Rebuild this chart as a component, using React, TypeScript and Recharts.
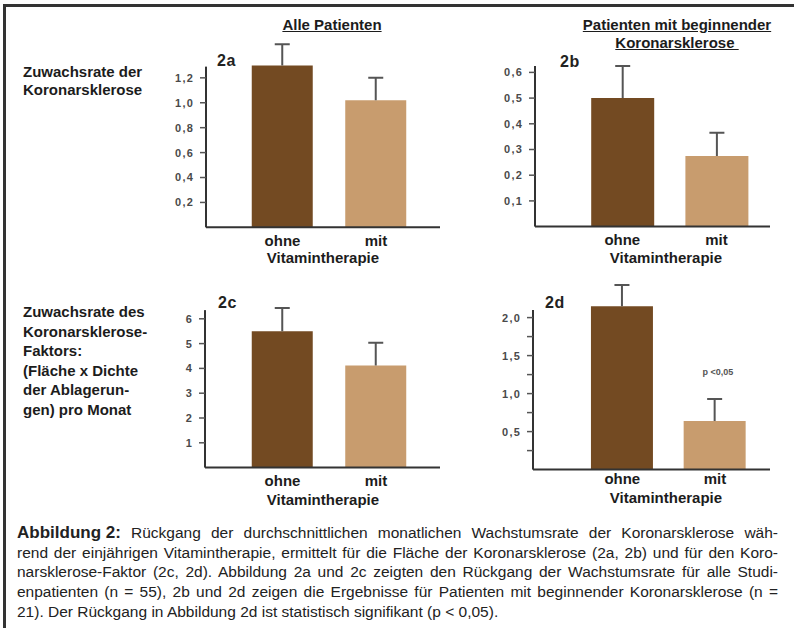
import React from "react";
import { BarChart, Bar, XAxis, YAxis, ReferenceLine, Cell } from "recharts";

const groups = ["ohne", "mit"];
const barColors = ["#734a22", "#c89c6e"];

// 2a: Zuwachsrate der Koronarsklerose, alle Patienten
const rate2a = [1.3, 1.02];
const err2a = [0.17, 0.18];
const ticks2a = [0.2, 0.4, 0.6, 0.8, 1.0, 1.2];

// 2b: Zuwachsrate, beginnende Koronarsklerose
const rate2b = [0.5, 0.275];
const err2b = [0.125, 0.09];
const ticks2b = [0.1, 0.2, 0.3, 0.4, 0.5, 0.6];

// 2c: Koronarsklerose-Faktor, alle Patienten
const rate2c = [5.5, 4.12];
const err2c = [0.94, 0.91];
const ticks2c = [1, 2, 3, 4, 5, 6];

// 2d: Koronarsklerose-Faktor, beginnende Koronarsklerose
const rate2d = [2.15, 0.64];
const err2d = [0.28, 0.29];
const ticks2d = [0.25, 0.5, 0.75, 1.0, 1.25, 1.5, 1.75, 2.0];

const captionLines = [
  "rend der einjährigen Vitamintherapie, ermittelt für die Fläche der Koronarsklerose (2a, 2b) und für den Koro-",
  "narsklerose-Faktor (2c, 2d). Abbildung 2a und 2c zeigten den Rückgang der Wachstumsrate für alle Studi-",
  "enpatienten (n = 55), 2b und 2d zeigen die Ergebnisse für Patienten mit beginnender Koronarsklerose (n =",
];

const FONT = '"Liberation Sans", Arial, sans-serif';
const INK = "#1c1c1c";

// one-sided whisker: drawn as a stacked segment on top of the bar
function Whisker(props: any) {
  const { x, y, width, height } = props;
  if (x == null || !height) return null;
  const cx = x + width / 2;
  return (
    <g stroke="#555" strokeWidth={2}>
      <line x1={cx} y1={y} x2={cx} y2={y + height} />
      <line x1={cx - 7.5} y1={y} x2={cx + 7.5} y2={y} />
    </g>
  );
}

type PanelProps = {
  values: number[];
  errors: number[];
  ticks: number[];
  labelStep: number;
  decimals: number;
  plotLeft: number;
  plotRight: number;
  centers: [number, number];
  barSize: number;
  zeroY: number;
  scale: number;
  yMax: number;
  axisTop: number;
  xTickMargin?: number;
};

function Panel(p: PanelProps) {
  const yAxisW = 40;
  const xAxisH = 40;
  const mRight = 6;
  const plotH = p.yMax * p.scale;
  const left = p.plotLeft - yAxisW;
  const top = p.zeroY - plotH;
  const width = p.plotRight + mRight - left;
  const height = plotH + xAxisH;
  const gap = p.centers[1] - p.centers[0];
  const xMin = 1 - (p.centers[0] - p.plotLeft) / gap;
  const xMax = 2 + (p.plotRight - p.centers[1]) / gap;
  const data = groups.map((g, i) => ({
    x: i + 1,
    name: g,
    value: p.values[i],
    err: p.errors[i],
  }));

  const fmtY = (v: number) => {
    const r = v / p.labelStep;
    if (Math.abs(r - Math.round(r)) > 1e-6) return "";
    return v.toFixed(p.decimals).replace(".", ",");
  };

  return (
    <div style={{ position: "absolute", left, top }}>
      <BarChart
        width={width}
        height={height}
        data={data}
        margin={{ top: 0, right: mRight, bottom: 0, left: 0 }}
      >
        <XAxis
          type="number"
          dataKey="x"
          domain={[xMin, xMax]}
          allowDataOverflow
          ticks={[1, 2]}
          interval={0}
          tickFormatter={(v: number) => groups[v - 1]}
          axisLine={{ stroke: "#333", strokeWidth: 2 }}
          tickLine={false}
          tickMargin={p.xTickMargin ?? 2}
          height={xAxisH}
          tick={{ fill: INK, fontSize: 15, fontWeight: 700 }}
        />
        <YAxis
          type="number"
          domain={[0, p.yMax]}
          ticks={p.ticks}
          interval={0}
          width={yAxisW}
          axisLine={false}
          tickLine={{ stroke: "#555", strokeWidth: 1.5 }}
          tickSize={6}
          tickMargin={6}
          tickFormatter={fmtY}
          tick={{ fill: "#4a4a4a", fontSize: 11, fontWeight: 700, letterSpacing: 1.2 }}
        />
        <ReferenceLine
          segment={[
            { x: xMin, y: 0 },
            { x: xMin, y: p.axisTop },
          ]}
          stroke="#333"
          strokeWidth={2}
          ifOverflow="visible"
        />
        <Bar dataKey="value" stackId="s" barSize={p.barSize} isAnimationActive={false}>
          {data.map((_, i) => (
            <Cell key={i} fill={barColors[i]} />
          ))}
        </Bar>
        <Bar
          dataKey="err"
          stackId="s"
          barSize={p.barSize}
          shape={<Whisker />}
          isAnimationActive={false}
        />
      </BarChart>
    </div>
  );
}

const abs = (left: number, top: number, extra: React.CSSProperties = {}): React.CSSProperties => ({
  position: "absolute",
  left,
  top,
  ...extra,
});

const bold15: React.CSSProperties = {
  fontSize: 15,
  fontWeight: 700,
  color: INK,
  lineHeight: "18px",
  whiteSpace: "pre",
};

const panelTag: React.CSSProperties = {
  fontSize: 16,
  fontWeight: 900,
  color: "#222",
  lineHeight: "16px",
  letterSpacing: 0.5,
};

const justified: React.CSSProperties = {
  textAlign: "justify",
  textAlignLast: "justify",
  whiteSpace: "nowrap",
};

export default function App() {
  return (
    <div
      style={{
        position: "absolute",
        left: 0,
        top: 0,
        width: 794,
        height: 628,
        background: "#fff",
        fontFamily: FONT,
        overflow: "hidden",
      }}
    >
      {/* frame */}
      <div style={abs(3, 4, { width: 791, height: 2.5, background: "#333" })} />
      <div style={abs(3, 4, { width: 3, height: 624, background: "#333" })} />

      {/* column headings */}
      <div style={abs(232, 16, { ...bold15, width: 200, textAlign: "center", textDecoration: "underline" })}>
        Alle Patienten
      </div>
      <div style={abs(577, 16, { ...bold15, width: 200, textAlign: "center", textDecoration: "underline" })}>
        {"Patienten mit beginnender\nKoronarsklerose\u00a0"}
      </div>

      {/* row labels */}
      <div style={abs(23, 63, bold15)}>{"Zuwachsrate der\nKoronarsklerose"}</div>
      <div style={abs(23, 302, { ...bold15, lineHeight: "19.5px" })}>
        {"Zuwachsrate des\nKoronarsklerose-\nFaktors:\n(Fläche x Dichte\nder Ablagerun-\ngen) pro Monat"}
      </div>

      {/* panel tags */}
      <div style={abs(217, 53, panelTag)}>2a</div>
      <div style={abs(560, 54, panelTag)}>2b</div>
      <div style={abs(218, 295, panelTag)}>2c</div>
      <div style={abs(545, 295, panelTag)}>2d</div>

      <Panel
        values={rate2a}
        errors={err2a}
        ticks={ticks2a}
        labelStep={0.2}
        decimals={1}
        plotLeft={206}
        plotRight={440}
        centers={[282.5, 376]}
        barSize={61}
        zeroY={227.5}
        scale={124.6}
        yMax={1.6}
        axisTop={1.29}
      />
      <Panel
        values={rate2b}
        errors={err2b}
        ticks={ticks2b}
        labelStep={0.1}
        decimals={1}
        plotLeft={535}
        plotRight={770}
        centers={[622.3, 716.5]}
        barSize={63}
        zeroY={226.5}
        scale={257}
        yMax={0.8}
        axisTop={0.625}
      />
      <Panel
        values={rate2c}
        errors={err2c}
        ticks={ticks2c}
        labelStep={1}
        decimals={0}
        plotLeft={205}
        plotRight={440}
        centers={[282.5, 376]}
        barSize={61}
        zeroY={468}
        scale={24.8}
        yMax={7}
        axisTop={6.35}
      />
      <Panel
        values={rate2d}
        errors={err2d}
        ticks={ticks2d}
        labelStep={0.5}
        decimals={1}
        plotLeft={533}
        plotRight={770}
        centers={[622.3, 715]}
        barSize={62}
        zeroY={470}
        scale={76}
        yMax={2.6}
        axisTop={2.1}
        xTickMargin={-2}
      />

      <div style={abs(693, 367, { width: 50, textAlign: "center", fontSize: 9, color: "#555", fontWeight: 700 })}>
        {"p <0,05"}
      </div>

      {/* x axis titles */}
      <div style={abs(243, 249, { ...bold15, width: 160, textAlign: "center" })}>Vitamintherapie</div>
      <div style={abs(586, 249, { ...bold15, width: 160, textAlign: "center" })}>Vitamintherapie</div>
      <div style={abs(243, 491, { ...bold15, width: 160, textAlign: "center" })}>Vitamintherapie</div>
      <div style={abs(586, 489, { ...bold15, width: 160, textAlign: "center" })}>Vitamintherapie</div>

      {/* caption */}
      <div style={abs(17, 523, { width: 761, fontSize: 15.5, color: "#222", lineHeight: "19.7px" })}>
        <div style={justified}>
          <span style={{ display: "inline-block", fontSize: 17, fontWeight: 700 }}>Abbildung 2:</span>
          {" Rückgang der durchschnittlichen monatlichen Wachstumsrate der Koronarsklerose wäh-"}
        </div>
        {captionLines.map((line, i) => (
          <div key={i} style={justified}>
            {line}
          </div>
        ))}
        <div style={{ whiteSpace: "nowrap" }}>
          21). Der Rückgang in Abbildung 2d ist statistisch signifikant (p &lt; 0,05).
        </div>
      </div>
    </div>
  );
}
